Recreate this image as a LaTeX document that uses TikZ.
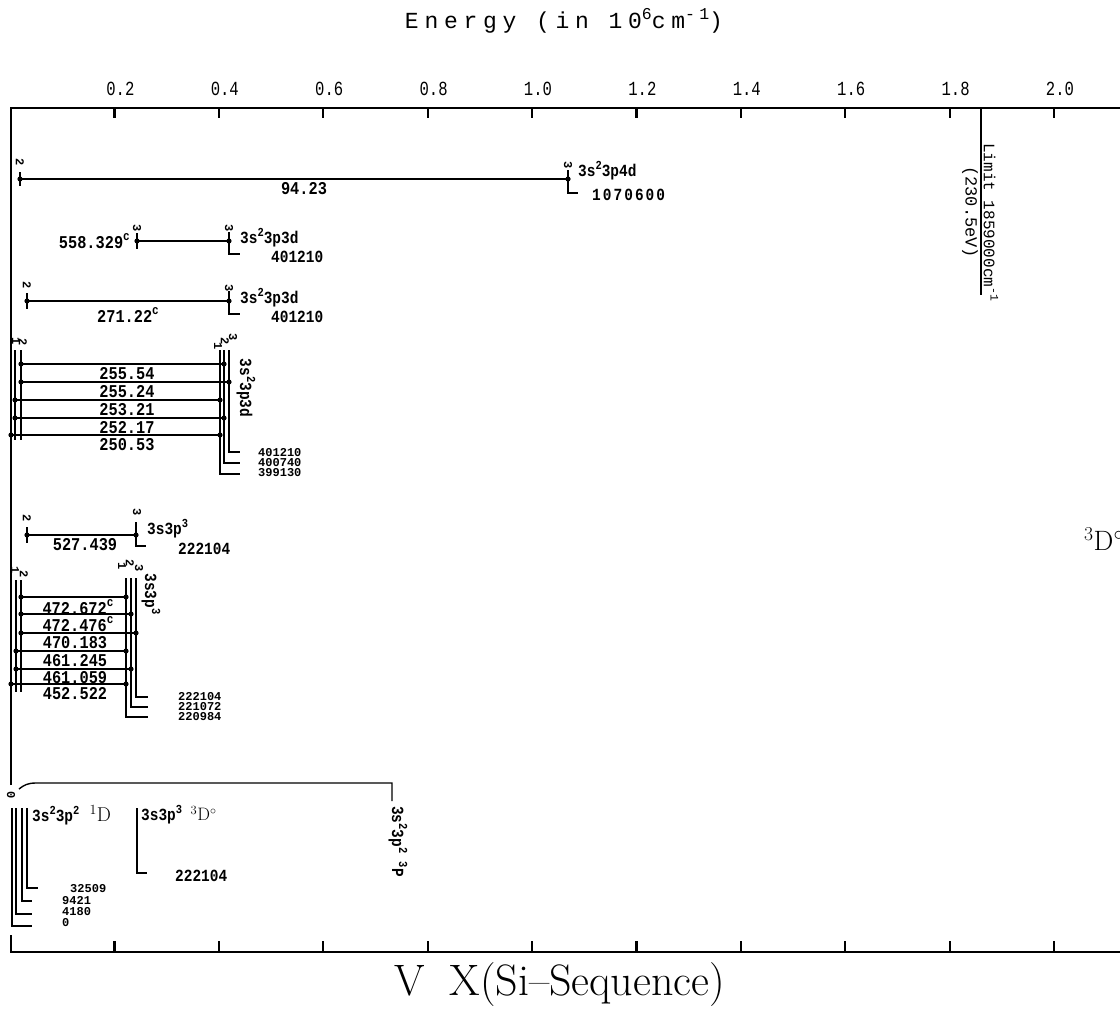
\documentclass[tikz,border=0pt]{standalone}
\usepackage{fontspec}
\usepackage{graphicx}
\newfontfamily\tw{Liberation Mono}
\newfontfamily\twn[FakeStretch=0.85]{Liberation Mono}
\newfontfamily\twt[FakeStretch=0.78]{Liberation Mono}
\newfontfamily\twsp[LetterSpace=25]{Liberation Mono}
\newfontfamily\twl[LetterSpace=12,FakeStretch=0.85]{Liberation Mono}
\newcommand\sps[1]{\raisebox{0.42em}{\scalebox{0.72}{#1}}}
\newcommand\trns[4]{\coordinate (#1a) at (#2,#4); \coordinate (#1b) at (#3,#4); \draw[trn] (#1a) -- (#1b); \fill (#1a) circle (2.6pt) (#1b) circle (2.6pt);}
\newcommand\brk[4]{\draw[lvl] (#1,#2) |- (#4,#3);}
\begin{document}
\begin{tikzpicture}[x=1pt,y=-1pt,
  axis/.style={line width=2.2pt},
  lvl/.style={line width=1.4pt},
  trn/.style={line width=1.5pt},
  jl/.style={font=\tw\bfseries\fontsize{12}{12}\selectfont, rotate=-90, inner sep=0pt},
  lab/.style={font=\twn\bfseries\fontsize{18}{18}\selectfont, inner sep=0pt},
  clab/.style={font=\twn\bfseries\fontsize{17}{17}\selectfont, inner sep=0pt, anchor=west},
  slab/.style={font=\tw\bfseries\fontsize{12}{12}\selectfont, inner sep=0pt, anchor=west},
  vlab/.style={font=\twn\bfseries\fontsize{17}{17}\selectfont, inner sep=0pt, rotate=-90},
  tick/.style={font=\twt\fontsize{20}{20}\selectfont, inner sep=0pt}]
\useasboundingbox (0,0) rectangle (1120,1012);

% titles
\node[font=\twsp\fontsize{23}{23}\selectfont, inner sep=0pt] (etitle) at (564,21) {Energy (in 10\sps{6}cm\sps{-1})};
\node[font=\fontsize{44}{44}\selectfont, inner sep=0pt] (vtitle) at (560,985) {V\hspace{0.55em}X(Si--Sequence)};

% frame
\coordinate (tl) at (11,108); \coordinate (tr) at (1125,108);
\coordinate (bl) at (11,952); \coordinate (br) at (1125,952);
\draw[axis] (11,785) -- (tl) -- (tr);
\draw[axis] (11,935) -- (bl) -- (br);
\foreach \i/\t in {1/0.2,2/0.4,3/0.6,4/0.8,5/1.0,6/1.2,7/1.4,8/1.6,9/1.8,10/2.0}{
  \draw[axis] ({10+104.4*\i},108) -- ({10+104.4*\i},118);
  \draw[axis] ({10+104.4*\i},952) -- ({10+104.4*\i},941);
  \node[tick] (tl\i) at ({16+104.4*\i},89) {\t};
}

% limit
\coordinate (lima) at (981,108); \coordinate (limb) at (981,295);
\draw[lvl] (lima) -- (limb);
\node[font=\tw\fontsize{16}{16}\selectfont, rotate=-90, inner sep=0pt, anchor=west] (lim) at (991,143) {Limit 1859000cm\sps{-1}};
\node[font=\tw\fontsize{17}{17}\selectfont, rotate=-90, inner sep=0pt, anchor=west] (ev) at (970,166) {(230.5eV)};
\node[font=\fontsize{28}{28}\selectfont, anchor=base west, inner sep=0pt] (tdo) at (1084,550) {\textsuperscript{3}D$^{\circ}$};

% row 1: 94.23
\draw[lvl] (20,172) -- (20,186);
\brk{568}{170}{193}{578}
\trns{r1}{20}{568}{179}
\node[jl] (j1a) at (20,162) {2};
\node[jl] (j1b) at (568,165) {3};
\node[lab] (w1) at (304,189) {94.23};
\node[clab] (c1) at (578,171) {3s\sps{2}3p4d};
\node[font=\twl\bfseries\fontsize{17}{17}\selectfont, inner sep=0pt, anchor=west] (e1) at (592,195) {1070600};

% row 2: 558.329
\draw[lvl] (137,233) -- (137,249);
\brk{229}{232}{254}{240}
\trns{r2}{137}{229}{241}
\node[jl] (j2a) at (137,228) {3};
\node[jl] (j2b) at (229,228) {3};
\node[lab, anchor=east] (w2) at (130,241) {558.329\sps{c}};
\node[clab] (c2) at (240,238) {3s\sps{2}3p3d};
\node[clab] (e2) at (271,257) {401210};

% row 3: 271.22
\draw[lvl] (27,293) -- (27,309);
\brk{229}{291}{314}{240}
\trns{r3}{27}{229}{301}
\node[jl] (j3a) at (27,285) {2};
\node[jl] (j3b) at (229,288) {3};
\node[lab] (w3) at (128,315) {271.22\sps{c}};
\node[clab] (c3) at (240,298) {3s\sps{2}3p3d};
\node[clab] (e3) at (271,317) {401210};

% block A: 3s2 3p2 3P - 3s2 3p3d 3D
\draw[lvl] (15,350) -- (15,440);
\draw[lvl] (21,350) -- (21,440);
\brk{220}{350}{474}{240}
\brk{224}{350}{463}{240}
\brk{229}{350}{452}{240}
\node[jl] (ja1) at (16,341) {1};
\node[jl] (ja2) at (23,342) {2};
\node[jl] (ja3) at (218,346) {1};
\node[jl] (ja4) at (225,341) {2};
\node[jl] (ja5) at (233,337) {3};
\trns{a1}{21}{224}{364}
\trns{a2}{21}{229}{382}
\trns{a3}{15}{220}{400}
\trns{a4}{15}{224}{418}
\trns{a5}{11}{220}{435}
\node[lab] (wa1) at (127,374) {255.54};
\node[lab] (wa2) at (127,392) {255.24};
\node[lab] (wa3) at (127,410) {253.21};
\node[lab] (wa4) at (127,428) {252.17};
\node[lab] (wa5) at (127,445) {250.53};
\node[vlab] (ca) at (246,388) {3s\sps{2}3p3d};
\node[slab] (ea1) at (258,453) {401210};
\node[slab] (ea2) at (258,463) {400740};
\node[slab] (ea3) at (258,473) {399130};

% row 5: 527.439
\draw[lvl] (27,527) -- (27,543);
\brk{136}{522}{546}{146}
\trns{r5}{27}{136}{535}
\node[jl] (j5a) at (27,518) {2};
\node[jl] (j5b) at (137,512) {3};
\node[lab] (w5) at (85,545) {527.439};
\node[clab] (c5) at (147,529) {3s3p\sps{3}};
\node[clab] (e5) at (178,549) {222104};

% block B: 3s2 3p2 3P - 3s3p3 3D
\draw[lvl] (16,580) -- (16,692);
\draw[lvl] (21,580) -- (21,692);
\brk{126}{578}{717}{148}
\brk{131}{578}{707}{148}
\brk{136}{578}{697}{148}
\node[jl] (jb1) at (15,570) {1};
\node[jl] (jb2) at (24,574) {2};
\node[jl] (jb3) at (122,566) {1};
\node[jl] (jb4) at (130,563) {2};
\node[jl] (jb5) at (139,568) {3};
\trns{b1}{21}{126}{597}
\trns{b2}{21}{131}{614}
\trns{b3}{21}{136}{633}
\trns{b4}{16}{126}{651}
\trns{b5}{16}{131}{669}
\trns{b6}{11}{126}{684}
\node[lab] (wb1) at (78,607) {472.672\sps{c}};
\node[lab] (wb2) at (78,624) {472.476\sps{c}};
\node[lab] (wb3) at (75,643) {470.183};
\node[lab] (wb4) at (75,661) {461.245};
\node[lab] (wb5) at (75,678) {461.059};
\node[lab] (wb6) at (75,694) {452.522};
\node[vlab] (cb) at (151,594) {3s3p\sps{3}};
\node[slab] (eb1) at (178,697) {222104};
\node[slab] (eb2) at (178,707) {221072};
\node[slab] (eb3) at (178,717) {220984};

% ground term
\coordinate (gt0) at (19,789); \coordinate (gt1) at (392,783); \coordinate (gt2) at (392,801);
\draw[lvl] (gt0) .. controls (24,785) and (28,783) .. (36,783) -- (gt1) -- (gt2);
\node[vlab, anchor=west] (cg) at (398,806) {3s\sps{2}3p\sps{2}\hspace{0.5em}\sps{3}P};
\node[jl] (jg0) at (11,795) {0};
\brk{12}{808}{926}{32}
\brk{16}{808}{914}{32}
\brk{22}{808}{901}{32}
\brk{27}{808}{888}{38}
\node[clab] (cd) at (32,815) {3s\sps{2}3p\sps{2}\hspace{0.6em}{\rmfamily\mdseries\fontsize{20}{20}\selectfont\textsuperscript{1}D}};
\node[slab] (eg1) at (70,889) {32509};
\node[slab] (eg2) at (62,901) {9421};
\node[slab] (eg3) at (62,912) {4180};
\node[slab] (eg4) at (62,923) {0};
\brk{137}{808}{873}{147}
\node[clab] (cu) at (141,815) {3s3p\sps{3}\hspace{0.5em}{\rmfamily\mdseries\fontsize{18}{18}\selectfont\textsuperscript{3}D$^{\circ}$}};
\node[clab] (eu) at (175,876) {222104};
\end{tikzpicture}
\end{document}
